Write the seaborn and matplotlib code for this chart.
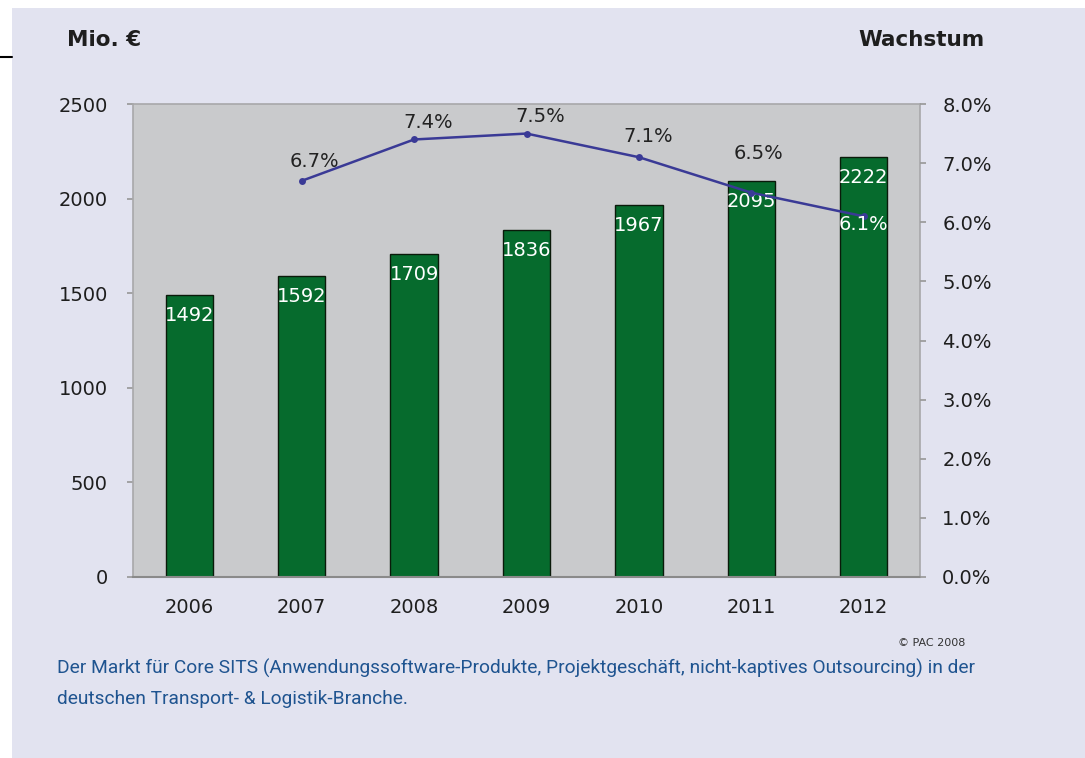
import matplotlib
matplotlib.use("Agg")
import matplotlib.pyplot as plt
import seaborn as sns
import pandas as pd
from matplotlib.patches import Rectangle
from matplotlib.lines import Line2D

years = ["2006", "2007", "2008", "2009", "2010", "2011", "2012"]
market = [1492, 1592, 1709, 1836, 1967, 2095, 2222]
growth_years = ["2007", "2008", "2009", "2010", "2011", "2012"]
growth = [6.7, 7.4, 7.5, 7.1, 6.5, 6.1]
left_ticks = [0, 500, 1000, 1500, 2000, 2500]
right_ticks = [0, 1, 2, 3, 4, 5, 6, 7, 8]
caption = ("Der Markt für Core SITS (Anwendungssoftware-Produkte, Projektgeschäft, nicht-kaptives Outsourcing) in der\n"
           "deutschen Transport- & Logistik-Branche.")

sns.set_theme(style="white")
plt.rcParams['font.family'] = ['DejaVu Sans']

W, H = 1085, 758
fig = plt.figure(figsize=(W / 100, H / 100), dpi=100)
fig.patch.set_facecolor("white")
fig.patches.append(Rectangle((12 / W, 0), 1 - 12 / W, 1 - 8 / H, transform=fig.transFigure,
                             facecolor="#e2e3f0", edgecolor="none", zorder=-10))
fig.lines.append(Line2D([0, 12 / W], [1 - 57 / H, 1 - 57 / H], transform=fig.transFigure,
                        color="black", lw=1.5))

ax = fig.add_axes([133 / W, 1 - 577 / H, (920 - 133) / W, (577 - 104) / H])
ax.set_facecolor("#c9cacc")

df = pd.DataFrame({"year": years, "market": market})
sns.barplot(data=df, x="year", y="market", ax=ax, color="#066b2d", width=0.42,
            edgecolor="#0a1a0a", linewidth=1.0, saturation=1)
ax.set_xlim(-0.5, len(years) - 0.5)
ax.set_ylim(0, 2500)
ax.set_yticks(left_ticks)
ax.set_yticklabels([str(t) for t in left_ticks])
ax.set_xlabel("")
ax.set_ylabel("")
ax.tick_params(axis="y", length=4, color="#9a9a9a", labelsize=14, labelcolor="#1e1e1e", pad=14)
ax.tick_params(axis="x", length=0, labelsize=14, labelcolor="#1e1e1e", pad=15)
for s in ["left", "top", "right"]:
    ax.spines[s].set_color("#a8a8aa")
    ax.spines[s].set_linewidth(1.2)
ax.spines["bottom"].set_color("#8a8a8a")
ax.spines["bottom"].set_linewidth(1.5)

for i, v in enumerate(market):
    ax.annotate(str(v), (i, v), xytext=(0, -15), textcoords="offset points",
                ha="center", va="center", color="white", fontsize=14)

ax2 = ax.twinx()
gdf = pd.DataFrame({"year": [years.index(y) for y in growth_years], "growth": growth})
sns.lineplot(data=gdf, x="year", y="growth", ax=ax2, color="#3a3a96", linewidth=1.8,
             marker="o", markersize=5, markeredgewidth=0)
ax2.set_ylim(0, 8)
ax2.set_xlim(-0.5, len(years) - 0.5)
ax2.set_yticks(right_ticks)
ax2.set_yticklabels([f"{t:.1f}%" for t in right_ticks])
ax2.set_ylabel("")
ax2.set_xlabel("")
ax2.tick_params(axis="y", length=4, color="#9a9a9a", labelsize=14, labelcolor="#1e1e1e", pad=12)
for s in ax2.spines.values():
    s.set_visible(False)

g_offsets = [(9, 14), (10, 12), (10, 12), (7, 15), (5, 28), (0, -6)]
g_colors = ["#222222", "#222222", "#222222", "#222222", "#222222", "white"]
for (x, v), off, c in zip(zip(gdf["year"], growth), g_offsets, g_colors):
    ax2.annotate(f"{v:.1f}%", (x, v), xytext=off, textcoords="offset points",
                 ha="center", va="center", color=c, fontsize=14)

fig.text(67 / W, 1 - 40 / H, "Mio. €", fontsize=15.5, fontweight="bold", color="#1e1e1e",
         ha="left", va="center")
fig.text(985 / W, 1 - 40 / H, "Wachstum", fontsize=15.5, fontweight="bold", color="#1e1e1e",
         ha="right", va="center")
fig.text(965 / W, 1 - 643 / H, "© PAC 2008", fontsize=8, color="#333333", ha="right", va="center")
fig.text(57 / W, 1 - 683 / H, caption, fontsize=13.8, color="#1f5490", ha="left", va="center",
         family=["Roboto", "DejaVu Sans"], linespacing=1.85)

fig.savefig("out.png", dpi=100, facecolor=fig.get_facecolor())
